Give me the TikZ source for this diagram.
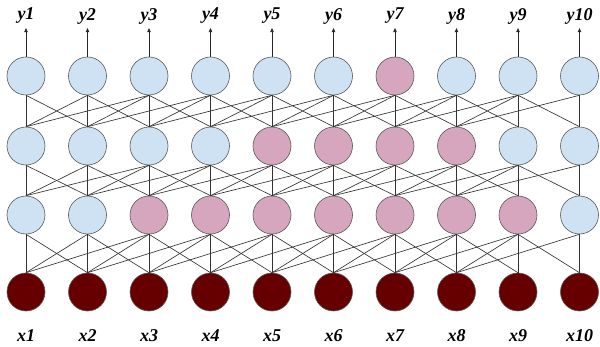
\documentclass[tikz,border=0pt]{standalone}
\usepackage{fontspec}
\setmainfont{Liberation Serif}
\usepackage{tikz}
\usetikzlibrary{arrows.meta}
\definecolor{sky}{RGB}{207,226,243}
\definecolor{rose}{RGB}{213,166,189}
\definecolor{wine}{RGB}{102,0,0}
\definecolor{rim}{RGB}{89,89,89}

\begin{document}
\begin{tikzpicture}[x=1pt, y=-1pt,
  unit/.style={circle, draw=rim, line width=0.6pt, minimum size=38pt, inner sep=0pt},
  lab/.style={font=\fontsize{18}{18}\selectfont\bfseries\itshape, inner sep=1pt},
  wire/.style={draw=black!80, line width=0.65pt},
  outarrow/.style={-{Triangle[length=4pt, width=3.5pt]}, draw=black!85, line width=0.65pt}]
\useasboundingbox (0,0) rectangle (600,347);
% units, bottom to top: x, a, b, y
\foreach \i in {1,...,10}{
  \pgfmathsetmacro\px{26+61.5*(\i-1)}
  \node[unit, fill=wine] (x\i) at (\px,292) {};
  \def\ca{sky}\ifnum\i>2 \ifnum\i<10 \def\ca{rose}\fi\fi
  \node[unit, fill=\ca] (a\i) at (\px,215) {};
  \def\cb{sky}\ifnum\i>4 \ifnum\i<9 \def\cb{rose}\fi\fi
  \node[unit, fill=\cb] (b\i) at (\px,146) {};
  \def\cy{sky}\ifnum\i=7 \def\cy{rose}\fi
  \node[unit, fill=\cy] (y\i) at (\px,76) {};
  \node[lab] (ly\i) at (\px,16) {y\i};
  \node[lab] (lx\i) at (\px,336) {x\i};
  \draw[outarrow] (y\i.north) -- ([yshift=-3pt]ly\i.south);
}
% connections between layers
\foreach \lo/\up in {x/a, a/b, b/y}{
  \foreach \i in {1,...,10}{
    \draw[wire] (\lo\i.north) -- (\up\i.south);
    \ifnum\i>1 \pgfmathtruncatemacro\j{\i-1}\draw[wire] (\lo\i.north) -- (\up\j.south);\fi
    \ifnum\i<9
      \pgfmathtruncatemacro\j{\i+1}\draw[wire] (\lo\i.north) -- (\up\j.south);
      \pgfmathtruncatemacro\k{\i+2}\draw[wire] (\lo\i.north) -- (\up\k.south);
    \fi
  }
}
\end{tikzpicture}
\end{document}
